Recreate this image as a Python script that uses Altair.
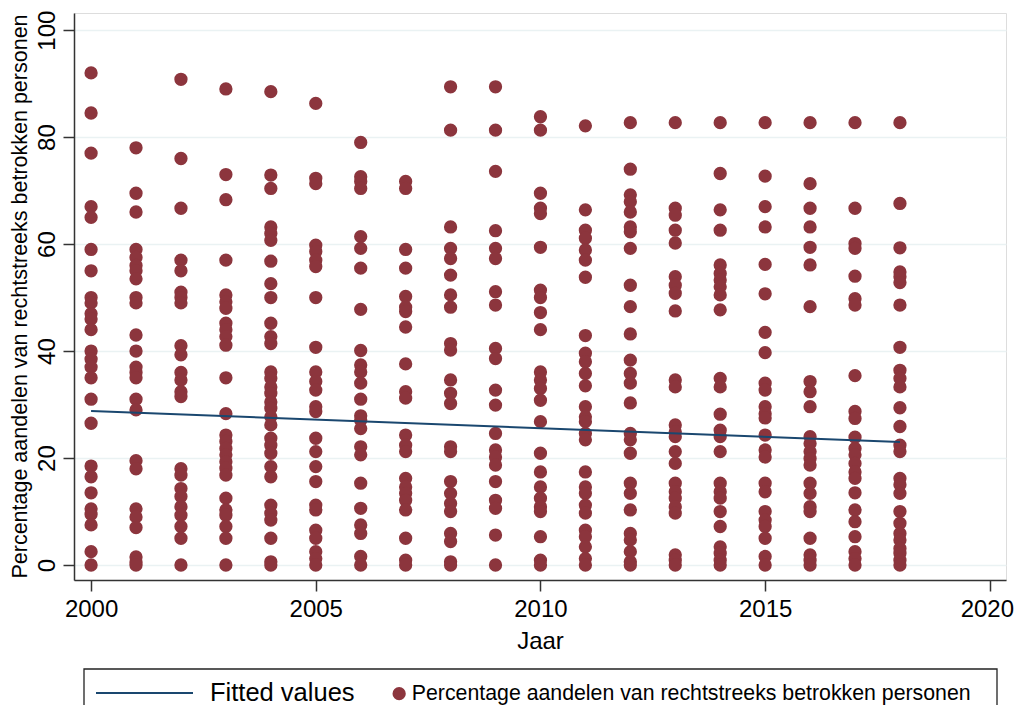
import altair as alt
import pandas as pd

# ---- data ----
y2000 = [92, 84.5, 77, 67, 65, 59, 55, 50, 49, 47, 46, 44, 40, 38.5, 37, 35, 31, 26.5, 18.5, 16.5, 13.5, 10.5, 9.5, 7.5, 2.5, 0]
y2001 = [78, 69.5, 66, 59, 57.5, 56, 55, 53.5, 50, 49, 43, 40, 37, 36, 35, 31, 29, 19.5, 18, 10.5, 9, 7, 1.5, 0.5, 0]
y2002 = [90.8, 76, 66.7, 57, 55, 51, 50, 49, 41, 39.3, 36, 34.6, 32.4, 31.5, 18, 16.8, 14.3, 12.8, 10.9, 9.3, 7.2, 5, 0]
y2003 = [89, 73, 68.3, 57, 50.5, 49.2, 48, 45.2, 44, 42.7, 41.1, 35, 28.3, 24.3, 23.1, 21.8, 20.6, 19.3, 18.1, 16.8, 12.5, 10.3, 9.3, 7.2, 5, 0]
y2004 = [88.5, 72.9, 70.4, 63.2, 62, 60.7, 56.8, 52.6, 50, 45.2, 42.7, 41.4, 36.1, 34.9, 33.3, 32.1, 30.5, 29.3, 27.7, 26.2, 23.7, 22.4, 20.9, 18.4, 16.5, 11.2, 9.7, 8.4, 5, 0.6, 0]
y2005 = [86.3, 72.3, 71.3, 59.8, 58.6, 57, 55.8, 50, 40.7, 36.1, 34.3, 32.7, 29.6, 28.7, 23.7, 21.2, 18.4, 15.6, 11.2, 10.3, 6.5, 5, 2.5, 1.2, 0]
y2006 = [79, 72.6, 71.7, 70.4, 61.4, 59.2, 55.5, 47.8, 40.1, 37.4, 36.1, 34, 31, 27.9, 27.1, 25.5, 22.1, 20.6, 15.3, 10.6, 7.5, 5.9, 1.6, 0]
y2007 = [71.7, 70.4, 59, 55.5, 50.2, 48.2, 47.4, 44.5, 37.6, 32.4, 31.2, 24.3, 22.4, 21.2, 16.2, 14.6, 13.4, 12.1, 10.3, 5, 0.9, 0]
y2008 = [89.4, 81.3, 63.2, 59.2, 57.3, 54.2, 50.5, 48.2, 41.4, 40.2, 34.6, 32.1, 30.2, 22.1, 21.2, 15.6, 13.4, 11.5, 10, 5.9, 4.4, 0.6, 0]
y2009 = [89.4, 81.3, 73.6, 62.5, 59.2, 57.3, 51.1, 48.6, 40.5, 38.6, 32.7, 29.9, 24.6, 21.5, 20.2, 18.7, 15.6, 12.1, 10.6, 5.6, 0]
y2010 = [83.8, 81.3, 69.5, 66.7, 65.7, 59.4, 51.4, 50, 47.2, 44, 36.1, 34.6, 33, 30.8, 26.8, 20.9, 17.4, 14.6, 12.5, 10.9, 10, 5.3, 0.9, 0]
y2011 = [82.1, 66.4, 62.6, 61.1, 58.9, 57, 53.8, 42.9, 39.6, 38, 35.8, 33.5, 29.6, 27.7, 26.8, 24.6, 23.4, 17.4, 14.6, 13.4, 11.2, 9.7, 6.5, 5.3, 3.4, 1.2, 0]
y2012 = [82.7, 74, 69.2, 67.9, 66, 63.2, 62.3, 59.2, 52.3, 48.3, 43.2, 38.3, 35.8, 34, 30.3, 24.6, 23.4, 20.9, 15.3, 13.4, 10.3, 5.9, 4.7, 2.5, 0.6, 0]
y2013 = [82.7, 66.7, 65.4, 62.6, 60.2, 53.9, 52.3, 50.8, 47.5, 34.6, 33.3, 26.2, 24.9, 24, 21.2, 19, 15.3, 13.7, 12.5, 10.9, 9.7, 1.9, 0.9, 0]
y2014 = [82.7, 73.2, 66.4, 62.6, 56.1, 54.5, 53.3, 52, 50.5, 47.7, 34.9, 33.3, 28.2, 25.2, 24, 21.2, 15.3, 13.7, 12.5, 10, 7.2, 3.4, 2.2, 0.9, 0]
y2015 = [82.7, 72.7, 67, 63.2, 56.2, 50.7, 43.5, 39.7, 34, 32.7, 29.6, 28.3, 27.5, 24.3, 21.5, 20.2, 15.3, 13.7, 10, 8.4, 7.2, 5, 1.6, 0]
y2016 = [82.7, 71.3, 66.7, 63.2, 59.4, 56.1, 48.3, 34.3, 32.4, 29.6, 24, 22.7, 21.2, 19.9, 18.7, 15.3, 13.4, 10.9, 10, 5, 1.9, 0.9, 0]
y2017 = [82.7, 66.7, 60.1, 59.2, 54, 49.8, 48.6, 35.4, 28.7, 27.4, 23.9, 21.8, 20.6, 19, 17.4, 16.2, 13.5, 10.3, 8.1, 5.3, 2.5, 1.2, 0]
y2018 = [82.7, 67.6, 59.3, 54.8, 53.9, 52.8, 48.6, 40.7, 36.4, 34.9, 33.3, 29.4, 25.9, 22.4, 21.2, 16.2, 15, 13.4, 10, 7.8, 5.9, 4.7, 3.1, 2.2, 0.9, 0]

years = list(range(2000, 2019))
columns = [y2000, y2001, y2002, y2003, y2004, y2005, y2006, y2007, y2008, y2009,
           y2010, y2011, y2012, y2013, y2014, y2015, y2016, y2017, y2018]

fit_years = [2000, 2018]
fit_values = [28.8, 23.0]

series_name = "Percentage aandelen van rechtstreeks betrokken personen"
fit_name = "Fitted values"
x_ticks = [2000, 2005, 2010, 2015, 2020]
y_ticks = [0, 20, 40, 60, 80, 100]

rows = []
for yr, vals in zip(years, columns):
    for v in vals:
        rows.append({"Jaar": yr, "pct": v, "series": series_name})
pts = pd.DataFrame(rows)
fit = pd.DataFrame({"Jaar": fit_years, "fit": fit_values, "fitlabel": [fit_name] * len(fit_years)})

FONT = "Liberation Sans"
MAROON = "#8C353D"
NAVY = "#1A476F"

x_scale = alt.Scale(domain=[1999.62, 2020.36], nice=False, zero=False)
y_scale = alt.Scale(domain=[-2.8, 103.2], nice=False, zero=False)

x_axis = alt.Axis(values=x_ticks, format="d", grid=False, tickSize=11, tickWidth=1.5,
                  tickColor="#333", domainColor="#333", domainWidth=1.5,
                  labelFontSize=24, labelPadding=6, labelColor="black", labelFont=FONT,
                  labelOffset=alt.ExprRef("datum.value == 2020 ? -3 : 0"),
                  title="Jaar", titleFontSize=24, titleFontWeight="normal", titleFont=FONT,
                  titleColor="black", titleBaseline="alphabetic", titleY=68)
y_axis = alt.Axis(values=y_ticks, grid=True, gridColor="#EAF2F3", gridWidth=1.5,
                  tickSize=11, tickWidth=1.5, tickColor="#333", domainColor="#333", domainWidth=1.5,
                  labelFontSize=24, labelAngle=270, labelAlign="center", labelBaseline="bottom",
                  labelPadding=4, labelColor="black", labelFont=FONT,
                  title=series_name, titleFontSize=21.5, titleFontWeight="normal", titleFont=FONT,
                  titleColor="black", titleAngle=270, titleAlign="center", titleBaseline="middle",
                  titleX=-54, titleY=283)

points = alt.Chart(pts).mark_circle(size=177, opacity=1).encode(
    x=alt.X("Jaar:Q", scale=x_scale, axis=x_axis),
    y=alt.Y("pct:Q", scale=y_scale, axis=y_axis),
    fill=alt.Fill("series:N", scale=alt.Scale(domain=[series_name], range=[MAROON]),
                  legend=alt.Legend(orient="none", legendX=314.5, legendY=670, title=None,
                                    symbolType="circle", symbolSize=177, symbolStrokeWidth=0,
                                    labelFontSize=21.3, labelFont=FONT, labelColor="black",
                                    labelOffset=2, padding=0, labelLimit=1000)),
)

line = alt.Chart(fit).mark_line(strokeWidth=2).encode(
    x=alt.X("Jaar:Q", scale=x_scale),
    y=alt.Y("fit:Q", scale=y_scale),
    stroke=alt.Stroke("fitlabel:N", scale=alt.Scale(domain=[fit_name], range=[NAVY]),
                      legend=alt.Legend(orient="none", legendX=21, legendY=630.5, title=None,
                                        symbolType="stroke", symbolSize=9409, symbolStrokeWidth=2,
                                        labelFontSize=25.5, labelFont=FONT, labelColor="black",
                                        labelOffset=16, padding=0, labelLimit=1000)),
)

box = alt.Chart(pd.DataFrame({"a": [0]})).mark_rect(filled=False, stroke="#222", strokeWidth=1.3).encode(
    x=alt.value(10), x2=alt.value(923), y=alt.value(656), y2=alt.value(720)
)

chart = alt.layer(points, line, box).resolve_scale(fill="independent", stroke="independent").properties(
    width=932, height=567,
    autosize=alt.AutoSizeParams(type="none"),
    padding={"left": 66, "top": 5, "right": 8, "bottom": 125},
).configure_view(stroke=None).configure(font=FONT, background="white")

chart.save("out.html", embed_options={"renderer": "svg", "actions": False})
